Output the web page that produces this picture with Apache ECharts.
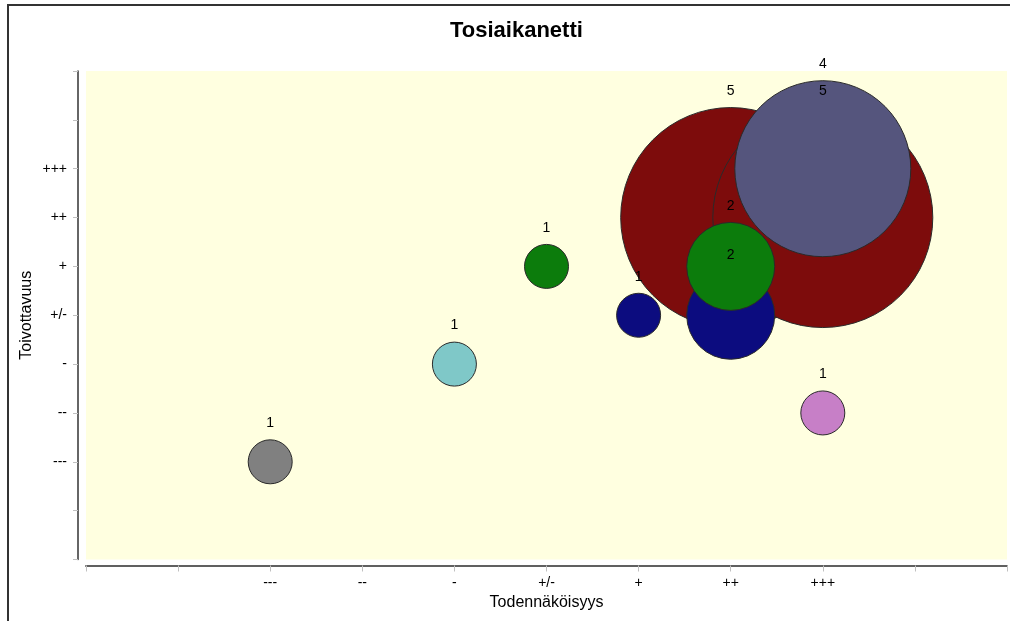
<!DOCTYPE html>
<html>
<head>
<meta charset="utf-8">
<title>Tosiaikanetti</title>
<script src="https://cdn.jsdelivr.net/npm/echarts@6/dist/echarts.min.js"></script>
<style>
  html, body { margin: 0; padding: 0; background: #fff; }
  #main { width: 1010px; height: 621px; }
</style>
</head>
<body>
<div id="main"></div>
<script>
// tick labels for values -5..5
var tickLabels = ['', '', '---', '--', '-', '+/-', '+', '++', '+++', '', ''];

// [todennakoisyys, toivottavuus, lukumaara]
var redData   = [[2, 2, 5], [3, 2, 5]];
var slateData = [[3, 3, 4]];
var navyData  = [[1, 0, 1], [2, 0, 2]];
var greenData = [[0, 1, 1], [2, 1, 2]];
var grayData  = [[-3, -3, 1]];
var tealData  = [[-1, -1, 1]];
var pinkData  = [[3, -2, 1]];

var seriesList = [
    {data: redData, color: '#7D0C0C'},
    {data: slateData, color: '#55557D'},
    {data: navyData, color: '#0C0C7F'},
    {data: greenData, color: '#0C7C0C'},
    {data: grayData, color: '#808080'},
    {data: tealData, color: '#7FC8C8'},
    {data: pinkData, color: '#C77FC7'}
];

function tickName(v) {
    var i = Math.round(v) + 5;
    return tickLabels[i] || '';
}

var myChart = echarts.init(document.getElementById('main'));

var series = [];
for (var i = 0; i < seriesList.length; i++) {
    series.push({
        type: 'scatter',
        data: seriesList[i].data,
        symbolSize: function (val) {
            return val[2] * 44;
        },
        itemStyle: {
            color: seriesList[i].color,
            borderColor: '#2a2a2a',
            borderWidth: 1,
            opacity: 1
        },
        label: {
            show: true,
            position: 'top',
            distance: 9,
            color: '#000',
            fontSize: 14,
            fontFamily: 'Liberation Sans',
            formatter: function (p) {
                return p.value[2];
            }
        },
        emphasis: {disabled: true},
        animation: false
    });
}

var option = {
    animation: false,
    title: {
        text: 'Tosiaikanetti',
        left: 445,
        top: 15,
        textStyle: {
            fontFamily: 'Liberation Sans',
            fontSize: 22,
            fontWeight: 'bold',
            color: '#000'
        }
    },
    graphic: [{
        type: 'rect',
        shape: {x: 8, y: 5, width: 1100, height: 700},
        style: {fill: 'none', stroke: '#333', lineWidth: 2},
        silent: true
    }],
    tooltip: {show: false},
    grid: {
        left: 86,
        right: 1,
        top: 71,
        bottom: 61.5,
        show: true,
        backgroundColor: '#FFFFE0',
        borderWidth: 0
    },
    xAxis: {
        type: 'value',
        min: -5,
        max: 5,
        interval: 1,
        offset: 6,
        name: 'Todennäköisyys',
        nameLocation: 'middle',
        nameGap: 29,
        nameMoveOverlap: false,
        nameTextStyle: {fontFamily: 'Liberation Sans', fontSize: 16, color: '#000'},
        axisLine: {show: true, onZero: false, lineStyle: {color: '#606060', width: 2}},
        axisTick: {show: true, length: 6, lineStyle: {color: '#c0c0c0'}},
        axisLabel: {
            margin: 11,
            fontFamily: 'Liberation Sans',
            fontSize: 14,
            color: '#000',
            formatter: tickName
        },
        splitLine: {show: false}
    },
    yAxis: {
        type: 'value',
        min: -5,
        max: 5,
        interval: 1,
        offset: 8,
        name: 'Toivottavuus',
        nameLocation: 'middle',
        nameGap: 43,
        nameMoveOverlap: false,
        nameTextStyle: {fontFamily: 'Liberation Sans', fontSize: 16, color: '#000'},
        axisLine: {show: true, onZero: false, lineStyle: {color: '#333', width: 1.5}},
        axisTick: {show: true, length: 5, lineStyle: {color: '#c0c0c0'}},
        axisLabel: {
            margin: 11,
            fontFamily: 'Liberation Sans',
            fontSize: 14,
            color: '#000',
            formatter: tickName
        },
        splitLine: {show: false}
    },
    series: series
};

myChart.setOption(option);
</script>
</body>
</html>
